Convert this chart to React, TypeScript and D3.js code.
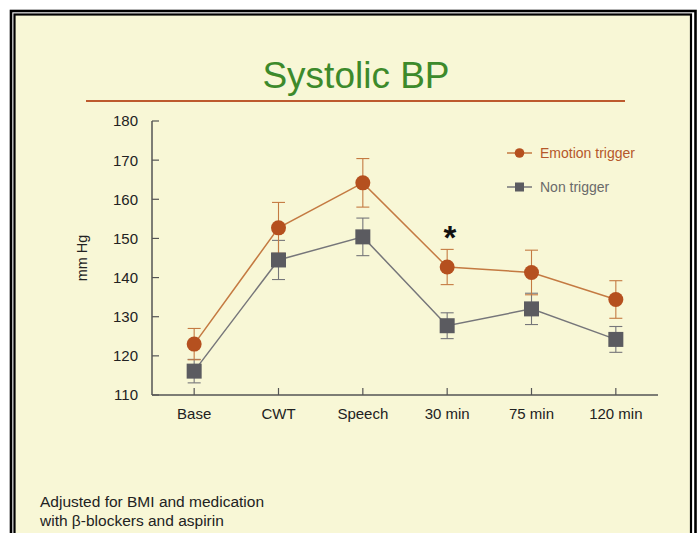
import React from "react";
import * as d3 from "d3";

const categories = ["Base", "CWT", "Speech", "30 min", "75 min", "120 min"];
const emotionMean = [123.0, 152.7, 164.2, 142.7, 141.3, 134.4];
const emotionErr = [4.0, 6.5, 6.2, 4.5, 5.7, 4.8];
const nonMean = [116.1, 144.5, 150.4, 127.7, 132.0, 124.2];
const nonErr = [3.0, 5.0, 4.8, 3.3, 4.0, 3.3];
const yTicks = [110, 120, 130, 140, 150, 160, 170, 180];
const seriesNames = ["Emotion trigger", "Non trigger"];

const W = 699;
const H = 533;
const FONT = "'Liberation Sans', Arial, Helvetica, sans-serif";

export default function App() {
  const x = d3.scalePoint<string>().domain(categories).range([152, 658]).padding(0.5);
  const y = d3.scaleLinear().domain([110, 180]).range([395, 121]);

  const emoColor = "#b5501f";
  const emoLine = "#c47a42";
  const nonColor = "#5b5b60";
  const nonLine = "#76767a";

  const lineGen = d3
    .line<number>()
    .x((_, i) => x(categories[i]) as number)
    .y((d) => y(d));

  const errBars = (means: number[], errs: number[], color: string) =>
    means.map((m, i) => {
      const cx = x(categories[i]) as number;
      const top = y(m + errs[i]);
      const bot = y(m - errs[i]);
      return (
        <g key={i} stroke={color} strokeWidth={1.1}>
          <line x1={cx} x2={cx} y1={top} y2={bot} />
          <line x1={cx - 6.5} x2={cx + 6.5} y1={top} y2={top} />
          <line x1={cx - 6.5} x2={cx + 6.5} y1={bot} y2={bot} />
        </g>
      );
    });

  return (
    <svg
      width={W}
      height={H}
      style={{ position: "absolute", left: 0, top: 0, background: "#ffffff" }}
      fontFamily={FONT}
    >
      {/* frame */}
      <rect x={11} y={11} width={684.5} height={600} fill="#ffffff" stroke="#000" strokeWidth={2.6} />
      <rect x={14.5} y={14.5} width={676.5} height={600} fill="#f8f7d6" stroke="#000" strokeWidth={2.2} />

      {/* title */}
      <text x={356} y={88} textAnchor="middle" fontSize={37} fill="#3d8a2b">
        Systolic BP
      </text>
      <line x1={86} x2={625} y1={101} y2={101} stroke="#bd5a2e" strokeWidth={2.2} />

      {/* y axis */}
      <line x1={152} x2={152} y1={121} y2={395} stroke="#555" strokeWidth={1.5} />
      {yTicks.map((t) => (
        <g key={t}>
          <line x1={152} x2={159} y1={y(t)} y2={y(t)} stroke="#555" strokeWidth={1.2} />
          <text x={138} y={y(t)} dy="0.36em" textAnchor="end" fontSize={15} fill="#222">
            {t}
          </text>
        </g>
      ))}
      <text
        transform={`translate(87,258) rotate(-90)`}
        textAnchor="middle"
        fontSize={14.5}
        fill="#222"
      >
        mm Hg
      </text>

      {/* x axis */}
      <line x1={152} x2={658} y1={395} y2={395} stroke="#555" strokeWidth={1.5} />
      {categories.map((c) => (
        <g key={c}>
          <line x1={x(c)} x2={x(c)} y1={395} y2={388} stroke="#555" strokeWidth={1.2} />
          <text x={x(c)} y={419} textAnchor="middle" fontSize={15} fill="#222">
            {c}
          </text>
        </g>
      ))}

      {/* error bars */}
      {errBars(nonMean, nonErr, nonLine)}
      {errBars(emotionMean, emotionErr, emoLine)}

      {/* lines */}
      <path d={lineGen(nonMean) || ""} fill="none" stroke={nonLine} strokeWidth={1.5} />
      <path d={lineGen(emotionMean) || ""} fill="none" stroke={emoLine} strokeWidth={1.5} />

      {/* markers */}
      {nonMean.map((m, i) => (
        <rect
          key={i}
          x={(x(categories[i]) as number) - 7.5}
          y={y(m) - 7.5}
          width={15}
          height={15}
          fill={nonColor}
        />
      ))}
      {emotionMean.map((m, i) => (
        <circle key={i} cx={x(categories[i]) as number} cy={y(m)} r={7.5} fill={emoColor} />
      ))}

      {/* asterisk */}
      <text x={450} y={249} textAnchor="middle" fontSize={33} fontWeight="bold" fill="#111">
        *
      </text>

      {/* legend */}
      <line x1={507} x2={532} y1={153} y2={153} stroke={emoLine} strokeWidth={1.5} />
      <circle cx={519.5} cy={153} r={4.8} fill={emoColor} />
      <text x={540} y={153} dy="0.36em" fontSize={14} fill="#b5582a">
        {seriesNames[0]}
      </text>
      <line x1={507} x2={532} y1={187} y2={187} stroke={nonLine} strokeWidth={1.5} />
      <rect x={515} y={182.5} width={9} height={9} fill={nonColor} />
      <text x={540} y={187} dy="0.36em" fontSize={14} fill="#6a6a6a">
        {seriesNames[1]}
      </text>

      {/* footnote */}
      <text x={40} y={507} fontSize={15.5} fill="#222">
        Adjusted for BMI and medication
      </text>
      <text x={40} y={526} fontSize={15.5} fill="#222">
        with β-blockers and aspirin
      </text>
    </svg>
  );
}
